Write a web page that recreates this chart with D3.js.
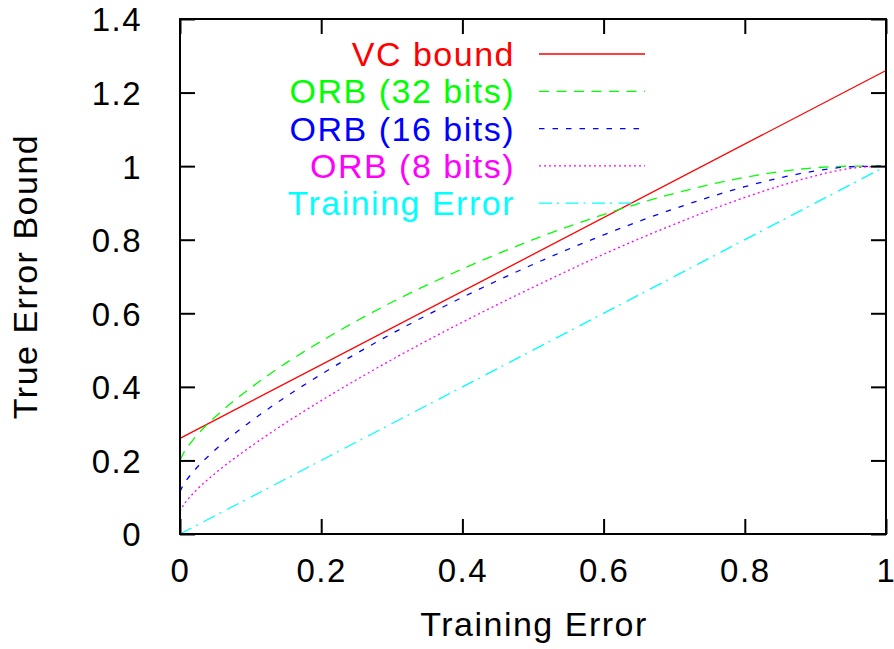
<!DOCTYPE html>
<html>
<head>
<meta charset="utf-8">
<script src="https://cdn.jsdelivr.net/npm/d3@7"></script>
<style>
  body { margin: 0; background: #fff; }
  text { font-family: "Liberation Sans", Arial, Helvetica, sans-serif; font-size: 34px; letter-spacing: 1.5px; }
</style>
</head>
<body>
<svg id="chart" width="894" height="649"></svg>
<script>
// values
var trainErr = [0, 0.005, 0.01, 0.02, 0.05, 0.1, 0.15, 0.2, 0.3, 0.4, 0.5, 0.6, 0.7, 0.8, 0.85, 0.9, 0.95, 1];
var orb32 = [0.200, 0.220, 0.2345, 0.2595, 0.3185, 0.397, 0.4645, 0.524, 0.630, 0.7205, 0.800, 0.8685, 0.9257, 0.9696, 0.9853, 0.9957, 0.9998, 1];
var orb16 = [0.115, 0.1345, 0.1483, 0.172, 0.229, 0.3058, 0.373, 0.434, 0.5445, 0.6433, 0.7328, 0.813, 0.8842, 0.944, 0.9682, 0.987, 0.9983, 1];
var orb8 = [0.061, 0.0785, 0.0915, 0.113, 0.165, 0.2375, 0.3024, 0.3625, 0.4738, 0.5757, 0.6707, 0.7603, 0.8418, 0.9148, 0.9463, 0.9738, 0.994, 1];
var vcX = [0, 1];
var vcBound = [0.26, 1.26];
var diagX = [0, 1];
var diagY = [0, 1];

var seriesNames = ["VC bound", "ORB (32 bits)", "ORB (16 bits)", "ORB (8 bits)", "Training Error"];
var xTicks = [0, 0.2, 0.4, 0.6, 0.8, 1];
var yTicks = [0, 0.2, 0.4, 0.6, 0.8, 1, 1.2, 1.4];

var margin = {top: 19, right: 8, bottom: 115, left: 180};
var width = 894 - margin.left - margin.right, height = 649 - margin.top - margin.bottom;

var svg = d3.select("#chart");
var g = svg.append("g")
  .attr("transform", "translate(" + margin.left + "," + margin.top + ")");

var x = d3.scaleLinear().domain([0, 1]).range([0, width]);
var y = d3.scaleLinear().domain([0, 1.4]).range([height, 0]);

var styles = [
  {color: "#ff0000", dash: null},
  {color: "#00ff00", dash: "10,7.5"},
  {color: "#0000ff", dash: "5.5,8"},
  {color: "#ff00ff", dash: "2,3"},
  {color: "#00ffff", dash: "13,5,2,6.5"}
];

function zip(xs, ys) {
  return xs.map(function(v, i) { return [v, ys[i]]; });
}
var series = [
  zip(vcX, vcBound),
  zip(trainErr, orb32),
  zip(trainErr, orb16),
  zip(trainErr, orb8),
  zip(diagX, diagY)
];

var line = d3.line()
  .x(function(d) { return x(d[0]); })
  .y(function(d) { return y(d[1]); })
  .curve(d3.curveMonotoneX);

g.selectAll(".series")
  .data(series)
  .enter().append("path")
  .attr("class", "series")
  .attr("d", line)
  .attr("fill", "none")
  .attr("stroke", function(d, i) { return styles[i].color; })
  .attr("stroke-width", 1.3)
  .attr("stroke-dasharray", function(d, i) { return styles[i].dash; });

// axes, gnuplot style: ticks inside on all four sides
var tickLen = 15;
var axisBottom = d3.axisBottom(x).tickValues(xTicks).tickSize(-tickLen).tickPadding(tickLen + 10).tickFormat(d3.format("~g"));
var axisTop = d3.axisTop(x).tickValues(xTicks).tickSize(-tickLen).tickFormat("");
var axisLeft = d3.axisLeft(y).tickValues(yTicks).tickSize(-tickLen).tickPadding(tickLen + 23).tickFormat(d3.format("~g"));
var axisRight = d3.axisRight(y).tickValues(yTicks).tickSize(-tickLen).tickFormat("");

function styleAxis(sel) {
  sel.select(".domain").remove();
  sel.selectAll("line").attr("stroke", "#000").attr("stroke-width", 2);
  sel.selectAll("text").attr("fill", "#000").style("font-size", "33px");
}

g.append("g").attr("transform", "translate(0," + height + ")").call(axisBottom).call(styleAxis)
  .selectAll("text").attr("dy", "0.71em");
g.append("g").call(axisTop).call(styleAxis);
g.append("g").call(axisLeft).call(styleAxis)
  .selectAll("text").attr("dy", "0.36em");
g.append("g").attr("transform", "translate(" + width + ",0)").call(axisRight).call(styleAxis);

g.append("rect")
  .attr("width", width)
  .attr("height", height)
  .attr("fill", "none")
  .attr("stroke", "#000")
  .attr("stroke-width", 2);

// axis titles
svg.append("text")
  .attr("x", margin.left + width / 2 + 1)
  .attr("y", 636)
  .attr("text-anchor", "middle")
  .text("Training Error");

svg.append("text")
  .attr("transform", "translate(37," + (margin.top + height / 2) + ")rotate(-90)")
  .attr("text-anchor", "middle")
  .text("True Error Bound");

// legend
var legend = g.selectAll(".legend")
  .data(seriesNames)
  .enter().append("g")
  .attr("class", "legend")
  .attr("transform", function(d, i) { return "translate(0," + (35 + i * 37.3) + ")"; });

legend.append("text")
  .attr("x", 335)
  .attr("y", 12)
  .attr("text-anchor", "end")
  .attr("fill", function(d, i) { return styles[i].color; })
  .text(function(d) { return d; });

legend.append("line")
  .attr("x1", 359)
  .attr("x2", 465)
  .attr("stroke", function(d, i) { return styles[i].color; })
  .attr("stroke-width", 1.3)
  .attr("stroke-dasharray", function(d, i) { return styles[i].dash; });
</script>
</body>
</html>
